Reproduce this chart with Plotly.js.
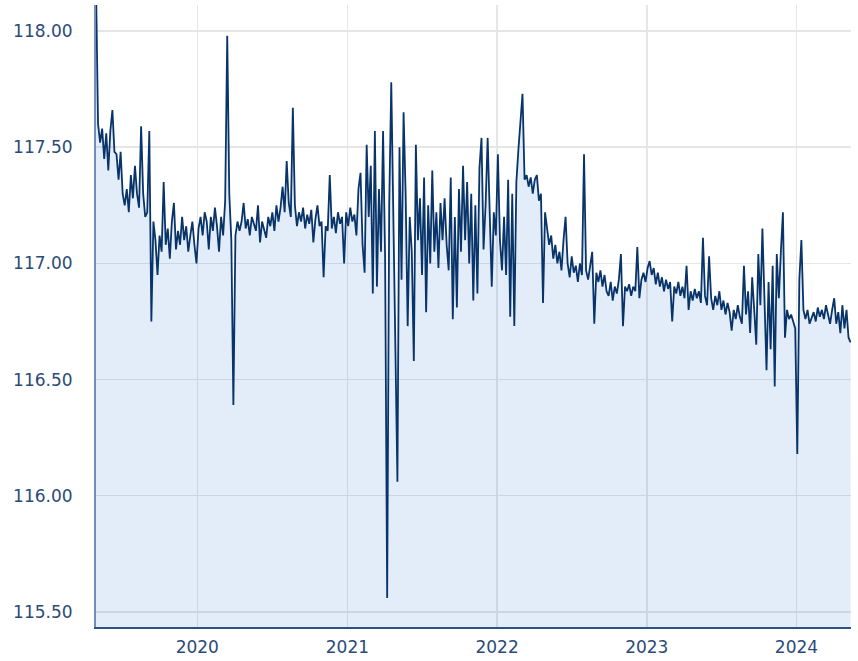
<!DOCTYPE html>
<html>
<head>
<meta charset="utf-8">
<script src="https://cdn.plot.ly/plotly-3.0.1.min.js"></script>
<style>html,body{margin:0;padding:0;background:#fff;}#chart{width:858px;height:661px;}</style>
</head>
<body>
<div id="chart"></div>
<script>
// Series: one reading every 5 days starting 2019-04-29
const startDate = '2019-04-29';
const stepDays = 5;
const values = [
  118.2, 117.60, 117.52, 117.58, 117.45, 117.56, 117.40, 117.57, 117.66, 117.48,
  117.47, 117.36, 117.48, 117.30, 117.25, 117.32, 117.22, 117.38, 117.28, 117.42,
  117.30, 117.24, 117.59, 117.30, 117.20, 117.22, 117.57, 116.75, 117.18, 117.10,
  116.95, 117.12, 117.05, 117.35, 117.08, 117.15, 117.02, 117.18, 117.26, 117.06,
  117.14, 117.08, 117.20, 117.10, 117.16, 117.05, 117.12, 117.18, 117.08, 117.00,
  117.15, 117.20, 117.12, 117.22, 117.18, 117.06, 117.20, 117.14, 117.24, 117.16,
  117.05, 117.20, 117.12, 117.27, 117.98, 117.30, 117.10, 116.39, 117.12, 117.18,
  117.14, 117.18, 117.26, 117.15, 117.19, 117.12, 117.20, 117.17, 117.14, 117.25,
  117.09, 117.18, 117.15, 117.11, 117.20, 117.16, 117.22, 117.14, 117.25, 117.18,
  117.24, 117.33, 117.22, 117.44, 117.26, 117.20, 117.67, 117.25, 117.16, 117.22,
  117.18, 117.24, 117.15, 117.21, 117.17, 117.23, 117.09, 117.19, 117.25, 117.16,
  117.18, 116.94, 117.16, 117.14, 117.38, 117.15, 117.20, 117.13, 117.22, 117.17,
  117.20, 117.00, 117.22, 117.16, 117.24, 117.18, 117.21, 117.12, 117.32, 117.39,
  117.08, 116.96, 117.51, 117.20, 117.42, 116.87, 117.57, 116.90, 117.32, 117.05,
  117.57, 117.02, 115.56, 117.25, 117.78, 117.10, 116.64, 116.06, 117.50, 116.93,
  117.65, 117.30, 116.73, 117.20, 117.05, 116.58, 117.51, 117.10, 117.28, 116.95,
  117.37, 116.79, 117.25, 117.00, 117.40, 117.05, 117.22, 116.98, 117.26, 117.10,
  117.28, 117.08, 116.97, 117.37, 116.76, 117.20, 116.81, 117.32, 117.05, 117.42,
  117.10, 117.35, 117.00, 117.30, 116.84, 117.25, 116.87, 117.41, 117.54, 117.06,
  117.25, 117.54, 117.15, 116.90, 117.22, 117.12, 117.47, 117.10, 116.97, 117.20,
  116.95, 117.36, 116.77, 117.30, 116.73, 117.35, 117.49, 117.60, 117.73, 117.36,
  117.38, 117.33, 117.37, 117.30, 117.36, 117.38, 117.27, 117.30, 116.83, 117.22,
  117.15, 117.08, 117.12, 117.02, 117.08, 117.00, 117.05, 116.97, 117.10, 117.20,
  117.00, 116.94, 117.03, 116.96, 116.99, 116.92, 117.00, 116.95, 117.47, 116.97,
  116.93, 116.99, 117.05, 116.74, 116.96, 116.92, 116.97, 116.90, 116.95, 116.88,
  116.86, 116.92, 116.84, 116.90, 116.87, 116.93, 117.04, 116.73, 116.90, 116.88,
  116.91, 116.86, 116.90, 116.88, 117.07, 116.85, 116.93, 116.96, 116.92, 116.98,
  117.01, 116.95, 116.98, 116.91, 116.96, 116.90, 116.94, 116.88, 116.93, 116.89,
  116.92, 116.75, 116.90, 116.87, 116.92, 116.86, 116.90, 116.85, 116.99, 116.80,
  116.88, 116.84, 116.89, 116.85, 116.88, 116.83, 117.11, 116.86, 116.82, 117.03,
  116.85, 116.80, 116.86, 116.82, 116.88, 116.80, 116.84, 116.78, 116.83, 116.79,
  116.71, 116.80, 116.76, 116.82, 116.77, 116.74, 116.99, 116.78, 116.88, 116.70,
  116.94, 116.80, 116.65, 117.04, 116.82, 117.15, 116.78, 116.54, 116.92, 116.63,
  116.99, 116.47, 117.04, 116.85, 117.05, 117.22, 116.68, 116.80, 116.76, 116.78,
  116.75, 116.72, 116.18, 116.93, 117.10, 116.80, 116.76, 116.80, 116.74, 116.77,
  116.79, 116.75, 116.81, 116.77, 116.80, 116.76, 116.82, 116.78, 116.74, 116.80,
  116.85, 116.74, 116.79, 116.70, 116.82, 116.72, 116.80, 116.68, 116.66
];
const yTickVals = [115.5, 116.0, 116.5, 117.0, 117.5, 118.0];
const yTickText = ['115.50', '116.00', '116.50', '117.00', '117.50', '118.00'];
const xTickVals = ['2020-01-01', '2021-01-01', '2022-01-01', '2023-01-01', '2024-01-01'];
const xTickText = ['2020', '2021', '2022', '2023', '2024'];

const dates = [];
const d0 = new Date(startDate + 'T00:00:00Z');
for (let i = 0; i < values.length; i++) {
  const d = new Date(d0.getTime() + i * stepDays * 86400000);
  dates.push(d.toISOString().slice(0, 10));
}

const tickFont = {family: 'DejaVu Sans, Verdana, sans-serif', size: 17, color: '#2b4a78'};

Plotly.newPlot('chart', [{
  x: dates,
  y: values,
  type: 'scatter',
  mode: 'lines',
  line: {color: '#08346a', width: 1.8},
  fill: 'tozeroy',
  fillcolor: 'rgba(0,90,200,0.11)',
  hoverinfo: 'skip'
}], {
  width: 858,
  height: 661,
  margin: {l: 96, r: 7, t: 5, b: 34, pad: 0},
  paper_bgcolor: '#ffffff',
  plot_bgcolor: '#ffffff',
  showlegend: false,
  xaxis: {
    type: 'date',
    range: ['2019-04-29', '2024-05-13'],
    tickvals: xTickVals,
    ticktext: xTickText,
    showgrid: true,
    gridcolor: '#e6e6e6',
    gridwidth: 1.5,
    showline: true,
    linecolor: '#2d5384',
    linewidth: 2,
    ticks: '',
    zeroline: false,
    tickfont: tickFont,
    ticklabelstandoff: 4
  },
  yaxis: {
    range: [115.435, 118.112],
    tickvals: yTickVals,
    ticktext: yTickText,
    showgrid: true,
    gridcolor: '#e6e6e6',
    gridwidth: 1.5,
    showline: true,
    linecolor: '#6f8fb8',
    linewidth: 2,
    ticks: '',
    zeroline: false,
    tickfont: tickFont,
    ticklabelstandoff: 18
  }
}, {displayModeBar: false, staticPlot: true});
</script>
</body>
</html>
